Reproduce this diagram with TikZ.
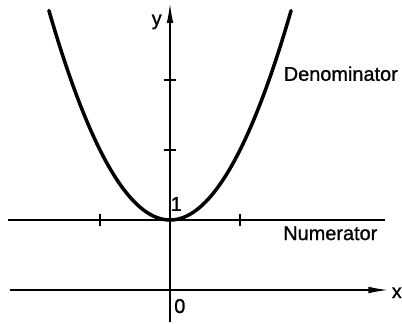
\documentclass[tikz,border=0pt]{standalone}
\usepackage{fontspec}
\setmainfont{Liberation Sans}
\newfontfamily\lblfont[FakeBold=1]{Liberation Sans}
\usetikzlibrary{arrows.meta, positioning}
\tikzset{
    axis/.style={line width=1.4pt, black},
    axisarrow/.style={axis, -{Latex[length=6mm, width=2mm]}},
    curve/.style={line width=3pt, black, line cap=round},
    tickmark/.style={line width=1.1pt, black},
    lbl/.style={font=\lblfont\fontsize{17}{19}\selectfont, inner sep=0pt}
}
\begin{document}
\begin{tikzpicture}[x=2.1cm, y=2.1cm]
    \useasboundingbox (-2.4286,-0.4714) rectangle (3.3143,4.1429);

    % Axis ends
    \coordinate (xstart) at (-2.29,0);
    \coordinate (xend) at (3.12,0);
    \coordinate (ystart) at (0,-0.45);
    \coordinate (yend) at (0,4.1);
    \coordinate (numstart) at (-2.31,1);
    \coordinate (numend) at (3.07,1);

    % Axes and numerator line
    \draw[axisarrow] (xstart) -- (xend);
    \draw[axisarrow] (ystart) -- (yend);
    \draw[axis] (numstart) -- (numend);

    % Ticks
    \foreach \t in {-1,1}
        \draw[tickmark] (\t,0.91) -- (\t,1.09);
    \foreach \t in {2,3}
        \draw[tickmark] (-0.09,\t) -- (0.09,\t);

    % Denominator curve
    \draw[curve] plot[domain=-1.73:1.73, samples=80, smooth] (\x, {1+\x*\x});

    % Labels
    \node[lbl] (ylbl) at (-0.19,3.83) {y};
    \node[lbl] (xlbl) at (3.24,-0.04) {x};
    \node[lbl] (onelbl) at (0.09,1.23) {1};
    \node[lbl] (zerolbl) at (0.14,-0.23) {0};
    \node[lbl] (numlbl) at (2.29,0.81) {Numerator};
    \node[lbl] (denlbl) at (2.44,3.09) {Denominator};
\end{tikzpicture}
\end{document}
